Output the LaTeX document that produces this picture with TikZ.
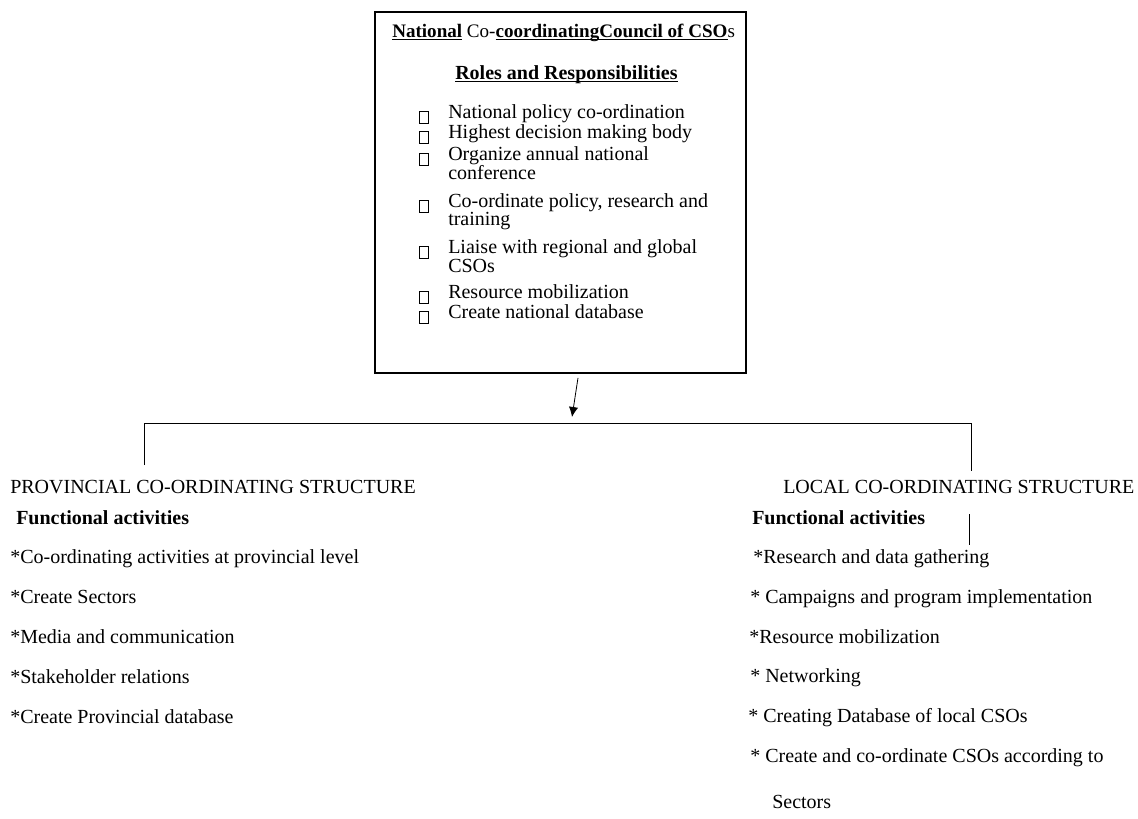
\documentclass[tikz,border=0pt]{standalone}
\usepackage{fontspec}
\setmainfont{Liberation Serif}
\usetikzlibrary{arrows.meta}

\newcommand{\ul}[1]{\underline{\smash{#1}}}

\begin{document}
\begin{tikzpicture}[x=0.75pt,y=-0.75pt]
\tikzset{txt/.style={anchor=base west, inner sep=0pt, font=\fontsize{15}{18}\selectfont},
  hdtxt/.style={txt, font=\fontsize{14.3}{17}\selectfont},
  cbox/.style={draw, line width=1.3pt, minimum width=278.25pt, minimum height=270.75pt},
  link/.style={line width=0.6pt}}
\useasboundingbox (0,0) rectangle (1138,818);
\node[cbox] (council) at (560.5,192.5) {};
\node[hdtxt] (title) at (392,37) {\textbf{\ul{National}} Co-\textbf{\ul{coordinatingCouncil of CSO}}s};
\node[txt] (roles) at (455,79) {\textbf{\ul{Roles and Responsibilities}}};
\foreach \b in {118,138,160,207,253,298,318}
  \draw[line width=0.5pt] (419,\b-6.5) rectangle (428.5,\b+5.5);
\node[txt] (r1) at (448,118) {National policy co-ordination};
\node[txt] (r2) at (448,138) {Highest decision making body};
\node[txt] (r3) at (448,160) {Organize annual national};
\node[txt] (r3b) at (448,179) {conference};
\node[txt] (r4) at (448,207) {Co-ordinate policy, research and};
\node[txt] (r4b) at (448,225) {training};
\node[txt] (r5) at (448,253) {Liaise with regional and global};
\node[txt] (r5b) at (448,272) {CSOs};
\node[txt] (r6) at (448,298) {Resource mobilization};
\node[txt] (r7) at (448,318) {Create national database};
% branches
\coordinate (arrtip) at (572,417);
\coordinate (barL) at (144,423);
\coordinate (barR) at (971,423);
\coordinate (provtop) at (144,465);
\coordinate (localtop) at (971,471);
\draw[link, -{Latex[length=7.5pt,width=7pt]}] ([shift={(17.5,4)}]council.south) -- (arrtip);
\draw[link] (provtop) -- (barL) -- (barR) -- (localtop);
\coordinate (tickA) at (969,514);
\coordinate (tickB) at (969,545);
\draw[link] (tickA) -- (tickB);
% provincial
\node[txt] (prov) at (10,493) {PROVINCIAL CO-ORDINATING STRUCTURE};
\node[txt] (provfun) at (16,524) {\textbf{Functional activities}};
\node[txt] (p1) at (10,563) {*Co-ordinating activities at provincial level};
\node[txt] (p2) at (10,603) {*Create Sectors};
\node[txt] (p3) at (10,643) {*Media and communication};
\node[txt] (p4) at (10,683) {*Stakeholder relations};
\node[txt] (p5) at (10,723) {*Create Provincial database};
% local
\node[txt] (local) at (783,493) {LOCAL CO-ORDINATING STRUCTURE};
\node[txt] (localfun) at (752,524) {\textbf{Functional activities}};
\node[txt] (l1) at (753,563) {*Research and data gathering};
\node[txt] (l2) at (750,603) {* Campaigns and program implementation};
\node[txt] (l3) at (749,643) {*Resource mobilization};
\node[txt] (l4) at (750,682) {* Networking};
\node[txt] (l5) at (748,722) {* Creating Database of local CSOs};
\node[txt] (l6) at (750,762) {* Create and co-ordinate CSOs according to};
\node[txt] (l7) at (772,808) {Sectors};
\end{tikzpicture}
\end{document}
